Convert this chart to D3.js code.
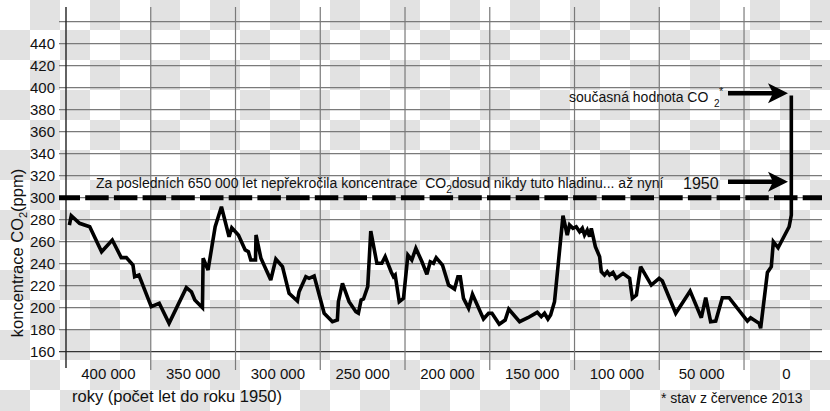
<!DOCTYPE html>
<html><head><meta charset="utf-8">
<script src="https://cdn.jsdelivr.net/npm/d3@7"></script>
<style>
body{margin:0;background:#fff}
svg{display:block;font-family:"Liberation Sans",Arial,sans-serif}
</style></head>
<body><svg id="c" width="830" height="411"></svg>
<script>
// kyr before 1950 (negative = after 1950)
const years = [423.0,421.9,417,411,404,397.7,392.4,389.4,385.5,384.5,382,374.7,370,364.2,354,351,349,344.5,344.1,341.2,
337,333.3,328.8,327.2,323.3,319.3,317.4,316,313.2,312.9,310,304.2,301.2,297.3,293.4,288.5,287.5,283.5,281.6,278.6,
272.7,267.8,264.9,264.3,261.9,258,254,252.5,250.9,249.5,247,245.2,241.6,238.7,236.7,233.2,231.8,230.8,228.4,225.9,
223.3,221,218.6,215,212.1,210.1,208.2,206.6,202.9,199.3,195.8,193.8,192.4,190.5,187.5,185.2,178.7,175.7,173.7,169.4,
165.9,163.8,157.4,152.5,147,144.6,142.7,140.7,139.1,136.8,131.8,129.3,127.9,125.9,124,122,120.4,119.1,117.5,116.1,
115.1,112.7,110.2,109.2,107.3,105.7,104.3,102.3,100.4,96.4,92.5,90.9,88.5,86,79.7,75.1,73.2,65.3,56.8,50.2,
47.6,44.7,41.7,37.8,33.8,23,21.1,16.1,15.2,11.2,8.9,7.7,4.9,-1.6,-2.9,-2.9];
const co2 = [275,283.6,276.7,273.6,250.9,261.5,245.5,245.5,238.8,228.2,229.7,200.9,204,185.8,218.2,214.5,207,200,244.9,234.3,
273.6,291.8,264.5,272.7,266.1,252.5,250.9,243.4,243.4,266.1,244.9,225.2,244.3,237.3,213.1,206.1,214.5,228.2,226.7,228.8,
194.9,187.3,188.8,205.5,222.2,205.5,196.4,195,207,207.9,219.1,269.7,240.4,240.4,246.4,232.7,228.2,229.7,205.5,208.5,
247.9,243.4,254,241.8,230.4,241.8,240.4,245.5,238.8,220.6,217,228.2,228.2,208.5,199.5,212.2,189.7,194.9,194.9,184.9,
188.8,198.8,187.3,190.9,195.8,191.8,194.9,189.7,193.4,205.5,283.6,266.1,275.2,272.2,273.6,269.1,272.2,266.1,270.6,264.5,
272.2,255.5,246.4,232.7,229.7,232.7,229.7,232.1,226.7,231.2,226.7,208.5,211.5,237.3,220.6,226.7,224.3,194.9,215.2,190.9,
209.1,187.3,187.9,209.1,209.1,187.9,190.9,185.8,181.3,232.1,237.3,260,254.5,273.6,284.3,393];

const yTicks = [160,180,200,220,240,260,280,300,320,340,360,380,400,420,440,460];
const yTickLabels = ["160","180","200","220","240","260","280","300","320","340","360","380","400","420","440",""];
const xGrid = [375,325,275,225,175,125,75,25];
const xTickVals = [400,350,300,250,200,150,100,50,0];
const xTickLabels = ["400 000","350 000","300 000","250 000","200 000","150 000","100 000","50 000","0"];
const limitPpm = 300;
const arrowPpm = [395, 314.5];

const svg = d3.select("#c");
const W = 830, H = 411;

// checkerboard (transparent-background look)
const defs = svg.append("defs");
const pat = defs.append("pattern").attr("id","chk").attr("width",60).attr("height",60).attr("patternUnits","userSpaceOnUse");
pat.append("rect").attr("width",60).attr("height",60).attr("fill","#ffffff");
pat.append("rect").attr("x",30).attr("y",0).attr("width",30).attr("height",30).attr("fill","#e2e2e2");
pat.append("rect").attr("x",0).attr("y",30).attr("width",30).attr("height",30).attr("fill","#e2e2e2");
svg.append("rect").attr("width",W).attr("height",H).attr("fill","url(#chk)");

const x = d3.scaleLinear().domain([425,-21]).range([66,822]);
const y = d3.scaleLinear().domain([160,460]).range([351.7,21.7]);

const gridL = 59, gridR = 822;

// horizontal grid
svg.append("g").selectAll("line").data(yTicks).join("line")
  .attr("x1",gridL).attr("x2",gridR)
  .attr("y1",d=>y(d)).attr("y2",d=>y(d))
  .attr("stroke",d=>d===160?"#333":"#7a7a7a").attr("stroke-width",1.2);

// vertical grid
svg.append("g").selectAll("line").data(xGrid).join("line")
  .attr("x1",d=>x(d)).attr("x2",d=>x(d))
  .attr("y1",7).attr("y2",370)
  .attr("stroke","#7a7a7a").attr("stroke-width",1.2);

// left axis line
svg.append("line").attr("x1",x(425)).attr("x2",x(425)).attr("y1",7).attr("y2",368)
  .attr("stroke","#222").attr("stroke-width",1.4);

// y tick labels
svg.append("g").selectAll("text").data(yTicks).join("text")
  .attr("x",55).attr("y",d=>y(d)).attr("dy","0.36em")
  .attr("text-anchor","end").attr("font-size",15).attr("fill","#111")
  .text((d,i)=>yTickLabels[i]);

// x tick labels
svg.append("g").selectAll("text").data(xTickVals).join("text")
  .attr("x",d=>x(d)).attr("y",378.5)
  .attr("text-anchor","middle").attr("font-size",15).attr("fill","#111")
  .text((d,i)=>xTickLabels[i]);

// axis titles
svg.append("text").attr("x",72).attr("y",402).attr("font-size",16.5).attr("fill","#111")
  .text("roky (počet let do roku 1950)");
const yt = svg.append("text").attr("transform","translate(23,253) rotate(-90)")
  .attr("text-anchor","middle").attr("font-size",16.5).attr("fill","#111");
yt.append("tspan").text("koncentrace CO");
yt.append("tspan").attr("font-size",11).attr("dy",4).text("2");
yt.append("tspan").attr("dy",-4).text("(ppm)");

// 300 ppm dashed line
svg.append("line").attr("x1",gridL).attr("x2",gridR)
  .attr("y1",y(limitPpm)).attr("y2",y(limitPpm))
  .attr("stroke","#000").attr("stroke-width",5)
  .attr("stroke-dasharray","23.5,5.2").attr("stroke-dashoffset",2.5);

// data line
const pts = years.map((d,i)=>[d,co2[i]]);
svg.append("path").datum(pts)
  .attr("d",d3.line().x(d=>x(d[0])).y(d=>y(d[1])))
  .attr("fill","none").attr("stroke","#000").attr("stroke-width",3.6)
  .attr("stroke-linejoin","miter").attr("stroke-miterlimit",3);

// annotation text
const t1 = svg.append("text").attr("x",96).attr("y",188).attr("font-size",14)
  .attr("fill","#111").style("white-space","pre");
t1.append("tspan").text("Za posledních 650 000 let nepřekročila koncentrace  CO");
t1.append("tspan").attr("font-size",10).attr("dy",5).text("2");
t1.append("tspan").attr("dy",-5).text("dosud nikdy tuto hladinu... až nyní");

svg.append("text").attr("x",683).attr("y",189.3).attr("font-size",16).attr("fill","#111").text("1950");

const t2 = svg.append("text").attr("x",569).attr("y",101.7).attr("font-size",14).attr("fill","#111");
t2.append("tspan").text("současná hodnota CO");
t2.append("tspan").attr("x",714).attr("dy",5).attr("font-size",10).text("2");
t2.append("tspan").attr("x",719).attr("dy",-12).attr("font-size",11).text("*");

svg.append("text").attr("x",661).attr("y",403).attr("font-size",14).attr("fill","#111")
  .text("* stav z července 2013");

// arrows
const tipX = x(-3) - 3.5;
arrowPpm.forEach(p=>{
  const ay = y(p);
  svg.append("line").attr("x1",728).attr("x2",tipX-12).attr("y1",ay).attr("y2",ay)
    .attr("stroke","#000").attr("stroke-width",4.5);
  svg.append("path")
    .attr("d",`M${tipX},${ay} L${tipX-20},${ay-10} L${tipX-15},${ay} L${tipX-20},${ay+10} Z`)
    .attr("fill","#000");
});
</script></body></html>
